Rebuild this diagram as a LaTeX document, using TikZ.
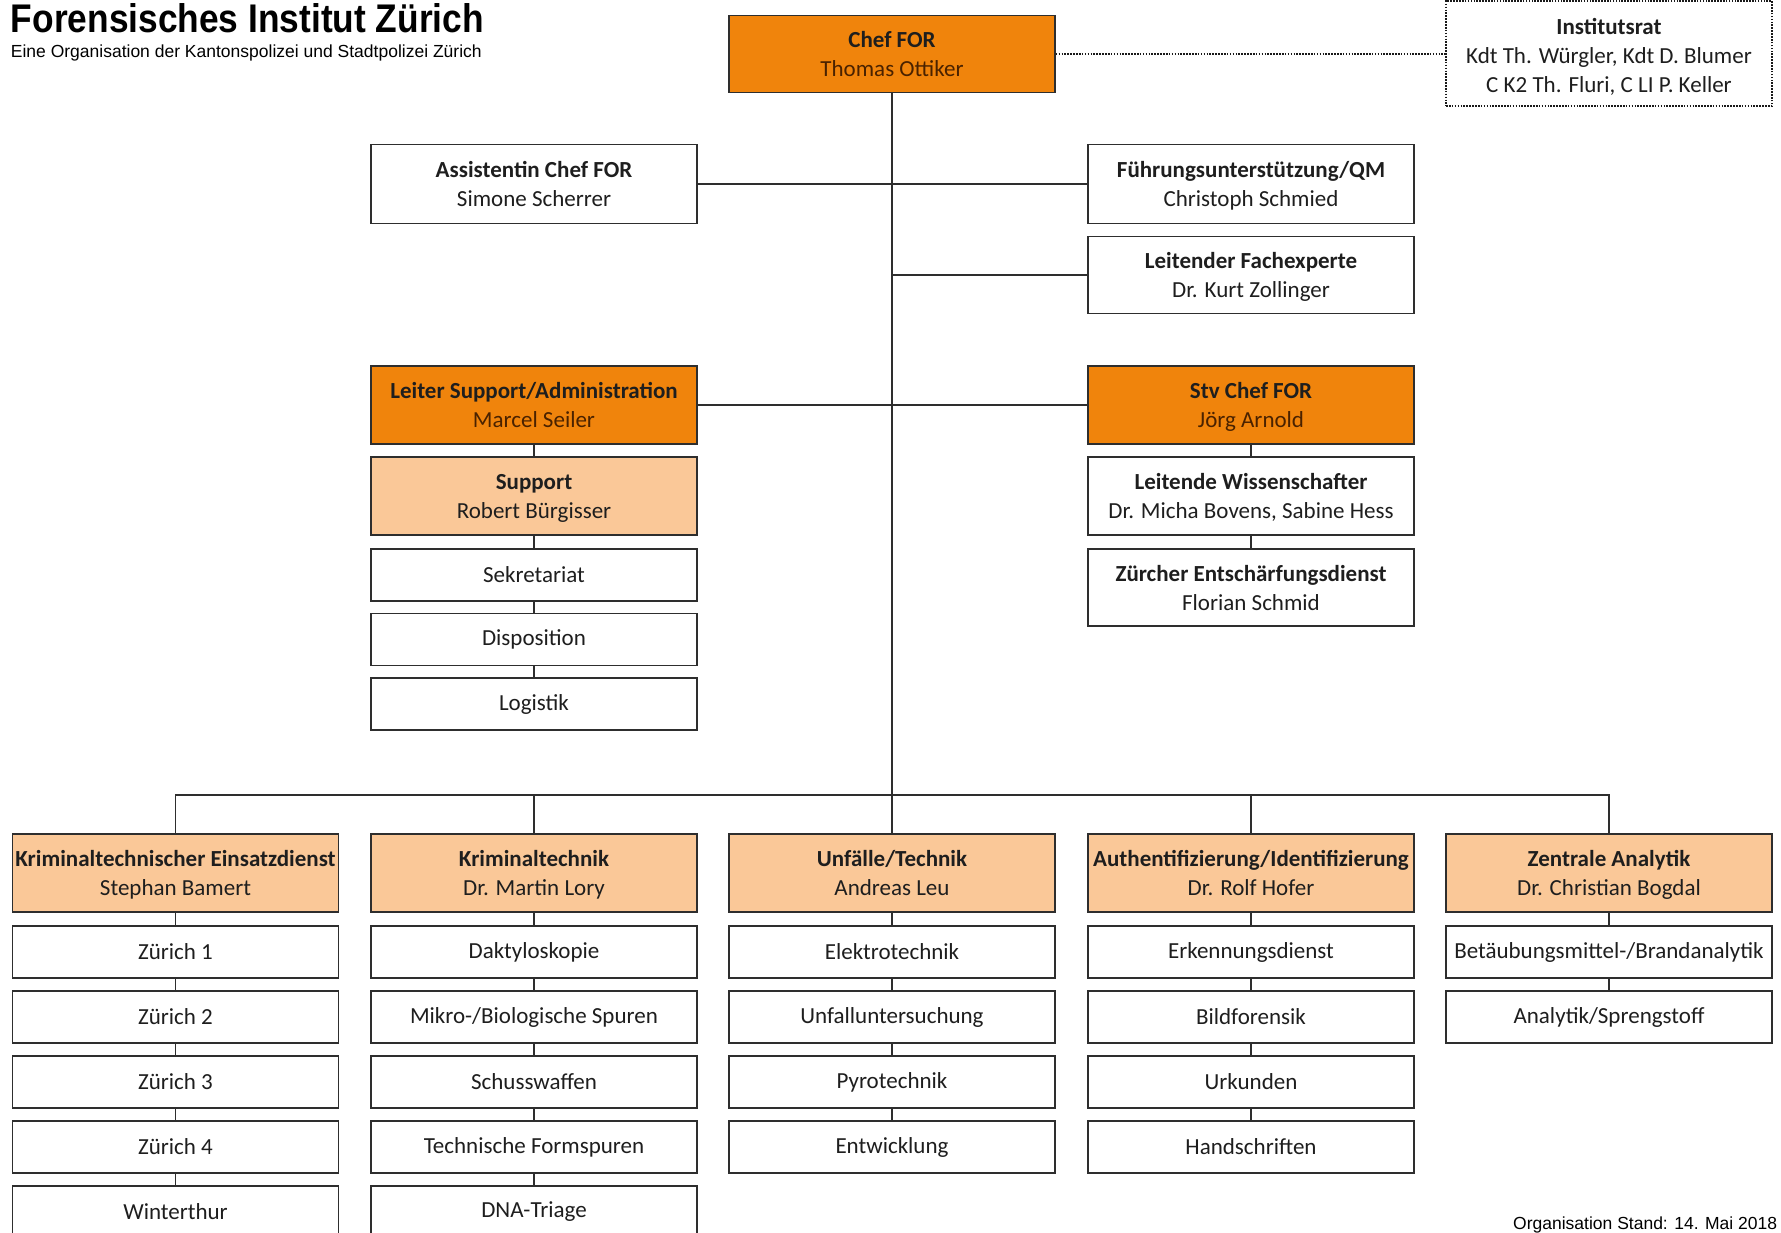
\documentclass[tikz,border=0pt]{standalone}
\usepackage{fontspec}
\setmainfont{Carlito}
\newfontfamily\arialfont{Liberation Sans}
\definecolor{dorange}{HTML}{F0840C}
\definecolor{lorange}{HTML}{FAC898}
\definecolor{linec}{HTML}{2E2E2E}
\definecolor{namebrown}{HTML}{4A2200}
\definecolor{txt}{HTML}{1E1E1E}
\tikzset{
  box/.style={draw=linec, line width=1.5pt, rectangle, minimum width=326pt, inner sep=0pt,
    align=center, font=\fontsize{23}{29}\selectfont, text=txt},
  wbox/.style={box, fill=white},
  lbox/.style={box, fill=lorange},
  dbox/.style={box, fill=dorange},
  tall/.style={minimum height=78pt, text height=45pt, text depth=0pt},
  short/.style={minimum height=52pt},
  conn/.style={draw=linec, line width=1.5pt},
  dotconn/.style={draw=black!90, line width=1.7pt, dash pattern=on 1.6pt off 1.3pt},
  dotbox/.style={dotconn, rectangle, minimum width=326pt, inner sep=0pt},
}
\begin{document}
\begin{tikzpicture}[x=1pt,y=-1pt]
\useasboundingbox (0,0) rectangle (1781,1232);
\clip (0,0) rectangle (1781,1232);
\fill[white] (0,0) rectangle (1781,1232);

% titles
\node[anchor=base west, inner sep=0pt] (title) at (10.7,32.5)
  {\arialfont\bfseries\fontsize{40}{40}\selectfont\scalebox{0.883}[1]{Forensisches Institut Zürich}};
\node[anchor=base west, inner sep=0pt] (subtitle) at (10.7,57.5)
  {\arialfont\fontsize{17.5}{20}\selectfont Eine Organisation der Kantonspolizei und Stadtpolizei Zürich};
\node[anchor=base west, inner sep=0pt] (stand) at (1513,1229)
  {\arialfont\fontsize{17.5}{20}\selectfont Organisation Stand: 14. Mai 2018};

% top
\node[dbox, tall, minimum height=77pt] (chef) at (892,54) {\textbf{Chef FOR}\\\textcolor{namebrown}{Thomas Ottiker}};
\node[dotbox, minimum height=105pt] (inst) at (1609,53.5) {};
\node[box, draw=none, fill=none, text height=74pt, text depth=0pt] (insttext) at (1609,55)
  {\textbf{Institutsrat}\\Kdt Th. Würgler, Kdt D. Blumer\\C K2 Th. Fluri, C LI P. Keller};

\node[wbox, tall, minimum height=79pt] (assist) at (534,184) {\textbf{Assistentin Chef FOR}\\Simone Scherrer};
\node[wbox, tall, minimum height=79pt] (fuehr) at (1251,184) {\textbf{Führungsunterstützung/QM}\\Christoph Schmied};
\node[wbox, tall, minimum height=77pt] (fach) at (1251,275) {\textbf{Leitender Fachexperte}\\Dr. Kurt Zollinger};

\node[dbox, tall] (leitsup) at (534,405) {\textbf{Leiter Support/Administration}\\\textcolor{namebrown}{Marcel Seiler}};
\node[dbox, tall] (stv) at (1251,405) {\textbf{Stv Chef FOR}\\\textcolor{namebrown}{Jörg Arnold}};
\node[lbox, tall] (support) at (534,496) {\textbf{Support}\\Robert Bürgisser};
\node[wbox, tall] (wiss) at (1251,496) {\textbf{Leitende Wissenschafter}\\Dr. Micha Bovens, Sabine Hess};
\node[wbox, short] (sekr) at (534,575) {Sekretariat};
\node[wbox, tall, minimum height=77pt] (entsch) at (1251,587.5) {\textbf{Zürcher Entschärfungsdienst}\\Florian Schmid};
\node[wbox, short] (dispo) at (534,639.5) {Disposition};
\node[wbox, short] (logi) at (534,704) {Logistik};

% column heads
\node[lbox, tall] (c1h) at (175.5,873) {\textbf{Kriminaltechnischer Einsatzdienst}\\Stephan Bamert};
\node[lbox, tall] (c2h) at (534,873) {\textbf{Kriminaltechnik}\\Dr. Martin Lory};
\node[lbox, tall] (c3h) at (892,873) {\textbf{Unfälle/Technik}\\Andreas Leu};
\node[lbox, tall] (c4h) at (1251,873) {\textbf{Authentifizierung/Identifizierung}\\Dr. Rolf Hofer};
\node[lbox, tall] (c5h) at (1609,873) {\textbf{Zentrale Analytik}\\Dr. Christian Bogdal};

% column 1
\node[wbox, short] (c1a) at (175.5,952) {Zürich 1};
\node[wbox, short] (c1b) at (175.5,1017) {Zürich 2};
\node[wbox, short] (c1c) at (175.5,1082) {Zürich 3};
\node[wbox, short] (c1d) at (175.5,1147) {Zürich 4};
\node[wbox, short] (c1e) at (175.5,1212) {Winterthur};
% column 2
\node[wbox, short] (c2a) at (534,952) {Daktyloskopie};
\node[wbox, short] (c2b) at (534,1017) {Mikro-/Biologische Spuren};
\node[wbox, short] (c2c) at (534,1082) {Schusswaffen};
\node[wbox, short] (c2d) at (534,1147) {Technische Formspuren};
\node[wbox, short] (c2e) at (534,1212) {DNA-Triage};
% column 3
\node[wbox, short] (c3a) at (892,952) {Elektrotechnik};
\node[wbox, short] (c3b) at (892,1017) {Unfalluntersuchung};
\node[wbox, short] (c3c) at (892,1082) {Pyrotechnik};
\node[wbox, short] (c3d) at (892,1147) {Entwicklung};
% column 4
\node[wbox, short] (c4a) at (1251,952) {Erkennungsdienst};
\node[wbox, short] (c4b) at (1251,1017) {Bildforensik};
\node[wbox, short] (c4c) at (1251,1082) {Urkunden};
\node[wbox, short] (c4d) at (1251,1147) {Handschriften};
% column 5
\node[wbox, short] (c5a) at (1609,952) {Betäubungsmittel-/Brandanalytik};
\node[wbox, short] (c5b) at (1609,1017) {Analytik/Sprengstoff};

% connectors
\coordinate (bus) at (892,795);
\draw[dotconn] (chef.east) -- (chef.east -| inst.west);
\draw[conn] (chef) -- (bus);
\draw[conn] (assist.east) -- (fuehr.west);
\draw[conn] (chef.south |- fach.west) -- (fach.west);
\draw[conn] (leitsup.east) -- (stv.west);
\draw[conn] (leitsup) -- (support) -- (sekr) -- (dispo) -- (logi);
\draw[conn] (stv) -- (wiss) -- (entsch);
\draw[conn] (c1h.north) |- (bus) -| (c5h.north);
\draw[conn] (c2h.north) -- (c2h.north |- bus);
\draw[conn] (bus) -- (c3h.north);
\draw[conn] (c4h.north) -- (c4h.north |- bus);
\draw[conn] (c1h) -- (c1a) -- (c1b) -- (c1c) -- (c1d) -- (c1e);
\draw[conn] (c2h) -- (c2a) -- (c2b) -- (c2c) -- (c2d) -- (c2e);
\draw[conn] (c3h) -- (c3a) -- (c3b) -- (c3c) -- (c3d);
\draw[conn] (c4h) -- (c4a) -- (c4b) -- (c4c) -- (c4d);
\draw[conn] (c5h) -- (c5a) -- (c5b);
\end{tikzpicture}
\end{document}
